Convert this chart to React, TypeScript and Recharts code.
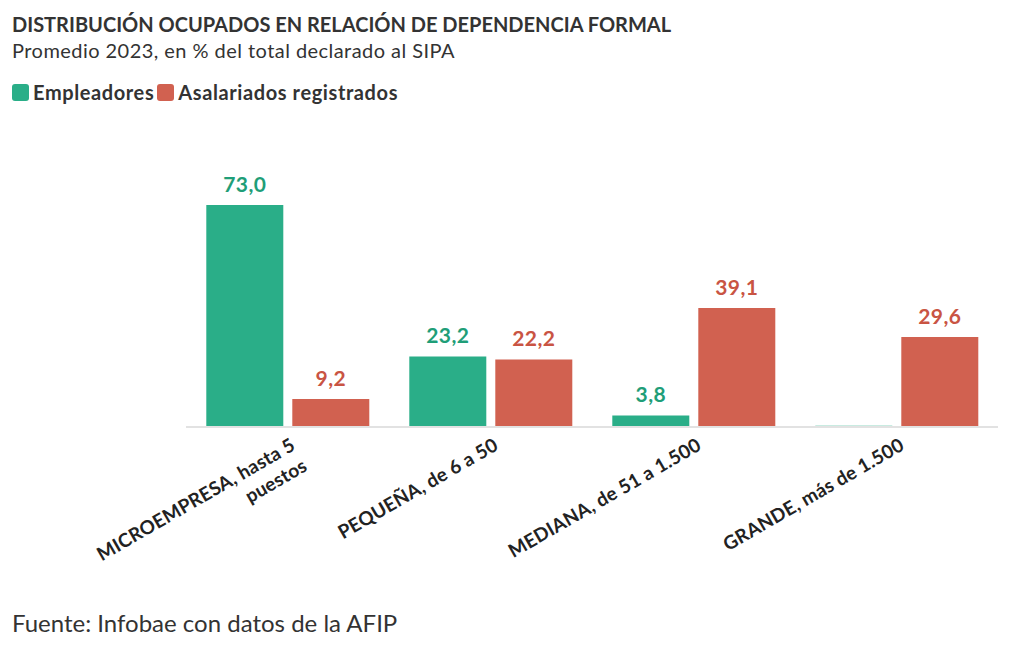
import React from 'react';
import { BarChart, Bar, XAxis, YAxis, LabelList } from 'recharts';

const categories = [
  ['MICROEMPRESA, hasta 5', 'puestos'],
  ['PEQUEÑA, de 6 a 50'],
  ['MEDIANA, de 51 a 1.500'],
  ['GRANDE, más de 1.500'],
];
const empleadores = [73.0, 23.2, 3.8, 0.4];
const asalariados = [9.2, 22.2, 39.1, 29.6];

const GREEN = '#2aae88';
const RED = '#d16150';
const FONT = 'Lato, "Noto Sans", sans-serif';

const data = categories.map((lines, i) => ({
  name: lines.join(' '),
  lines,
  empleadores: empleadores[i],
  asalariados: asalariados[i],
}));

const fmt = (v: number) => v.toFixed(1).replace('.', ',');

const makeLabel = (color: string) => (props: any) => {
  const { x, y, width, value } = props;
  if (value < 1) return null;
  return (
    <text
      x={x + width / 2}
      y={y - 13}
      textAnchor="middle"
      fill={color}
      fontFamily={FONT}
      fontWeight={700}
      fontSize={21}
      letterSpacing={0.4}
    >
      {fmt(value)}
    </text>
  );
};

const Tick = (props: any) => {
  const { x, y, index } = props;
  const lines = categories[index] || [];
  return (
    <g transform={`translate(${x + 9},${y + 14})`}>
      <text
        transform="rotate(-30)"
        textAnchor="end"
        fill="#222"
        fontFamily={FONT}
        fontWeight={700}
        fontSize={19}
        letterSpacing={0.2}
      >
        {lines.map((l, i) => (
          <tspan key={i} x={0} dy={i === 0 ? 0 : 24}>
            {l}
          </tspan>
        ))}
      </text>
    </g>
  );
};

const LegendItem = ({ color, label }: { color: string; label: string }) => (
  <span style={{ display: 'inline-flex', alignItems: 'center', marginRight: 3 }}>
    <span
      style={{
        width: 17,
        height: 17,
        borderRadius: 3,
        background: color,
        display: 'inline-block',
        marginRight: 4,
      }}
    />
    {label}
  </span>
);

export default function App() {
  return (
    <div
      style={{
        position: 'absolute',
        left: 0,
        top: 0,
        width: 1020,
        height: 650,
        background: '#fff',
        fontFamily: FONT,
        color: '#333',
      }}
    >
      <div style={{ position: 'absolute', left: 12, top: 14, fontSize: 20, fontWeight: 700, lineHeight: 1 }}>
        DISTRIBUCIÓN OCUPADOS EN RELACIÓN DE DEPENDENCIA FORMAL
      </div>
      <div style={{ position: 'absolute', left: 12, top: 40, fontSize: 20, letterSpacing: 0.45, lineHeight: 1 }}>
        Promedio 2023, en % del total declarado al SIPA
      </div>
      <div
        style={{
          position: 'absolute',
          left: 12,
          top: 82,
          fontSize: 20,
          fontWeight: 700,
          letterSpacing: 0.6,
          lineHeight: 1,
          display: 'flex',
        }}
      >
        <LegendItem color={GREEN} label="Empleadores" />
        <LegendItem color={RED} label="Asalariados registrados" />
      </div>
      <div style={{ position: 'absolute', left: 0, top: 120 }}>
        <BarChart
          width={1008}
          height={457}
          data={data}
          margin={{ top: 85, right: 10, left: 186, bottom: 0 }}
          barCategoryGap="10%"
          barGap={9}
        >
          <XAxis
            dataKey="name"
            axisLine={{ stroke: '#e2e2e2', strokeWidth: 2 }}
            tickLine={false}
            interval={0}
            height={150}
            tick={<Tick />}
          />
          <YAxis hide domain={[0, 73]} />
          <Bar dataKey="empleadores" fill={GREEN} isAnimationActive={false}>
            <LabelList dataKey="empleadores" content={makeLabel('#1f9e78')} />
          </Bar>
          <Bar dataKey="asalariados" fill={RED} isAnimationActive={false}>
            <LabelList dataKey="asalariados" content={makeLabel('#c95443')} />
          </Bar>
        </BarChart>
      </div>
      <div style={{ position: 'absolute', left: 12, top: 611, fontSize: 24, lineHeight: 1 }}>
        Fuente: Infobae con datos de la AFIP
      </div>
    </div>
  );
}
